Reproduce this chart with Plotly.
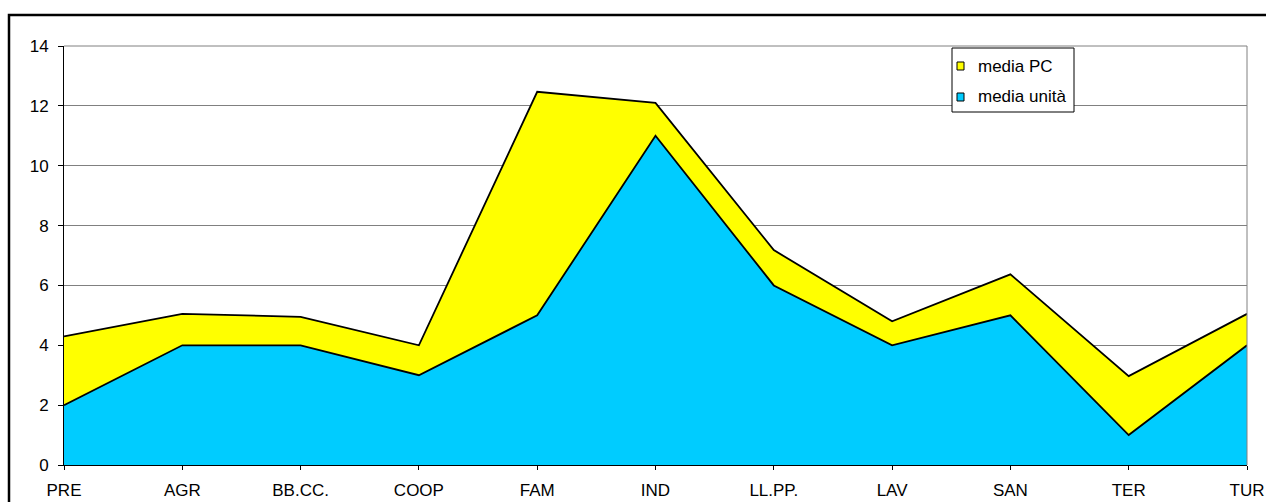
import plotly.graph_objects as go

categories = ["PRE", "AGR", "BB.CC.", "COOP", "FAM", "IND", "LL.PP.", "LAV", "SAN", "TER", "TUR"]
media_pc = [4.3, 5.05, 4.95, 4.0, 12.47, 12.1, 7.18, 4.8, 6.37, 2.97, 5.05]
media_unita = [2, 4, 4, 3, 5, 11, 6, 4, 5, 1, 4]
series_names = ["media PC", "media unità"]

YELLOW = "#FFFF00"
BLUE = "#00CCFF"
FONT = "Liberation Sans, Arial, sans-serif"

# figure size / plot area in pixels (body margin removed below)
W, H = 1266, 502
L, R, T, B = 64, 19, 46, 37
PW, PH = W - L - R, H - T - B


def px(x):
    return (x - L) / PW


def py(y):
    return (H - B - y) / PH


fig = go.Figure()

# areas overlap (not stacked): yellow behind, blue in front
fig.add_trace(go.Scatter(
    x=categories, y=media_pc, mode="lines", fill="tozeroy",
    fillcolor=YELLOW, line=dict(color="black", width=1.8),
    showlegend=False, name=series_names[0],
))
fig.add_trace(go.Scatter(
    x=categories, y=media_unita, mode="lines", fill="tozeroy",
    fillcolor=BLUE, line=dict(color="black", width=1.8),
    showlegend=False, name=series_names[1],
))

shapes = [
    # grey plot-area frame on top and right
    dict(type="line", xref="paper", yref="paper", x0=0, x1=1, y0=1, y1=1,
         line=dict(color="#808080", width=1)),
    dict(type="line", xref="paper", yref="paper", x0=1, x1=1, y0=0, y1=1,
         line=dict(color="#808080", width=1)),
    # outer chart border (cropped on right and bottom)
    dict(type="rect", xref="paper", yref="paper",
         x0=px(9), x1=1.05, y0=-0.2, y1=py(15),
         line=dict(color="black", width=2.5), layer="above"),
    # legend box
    dict(type="rect", xref="paper", yref="paper",
         x0=px(952), x1=px(1074), y0=py(112), y1=py(48),
         fillcolor="white", line=dict(color="black", width=1), layer="above"),
]
annotations = []
for i, (name, color) in enumerate(zip(series_names, [YELLOW, BLUE])):
    cy = 66 + i * 31
    shapes.append(dict(
        type="rect", xref="paper", yref="paper",
        x0=px(957), x1=px(964), y0=py(cy + 4), y1=py(cy - 4),
        fillcolor=color, line=dict(color="black", width=1), layer="above",
    ))
    annotations.append(dict(
        xref="paper", yref="paper", x=px(976), y=py(cy),
        xanchor="left", yanchor="middle", text=name, showarrow=False,
        font=dict(family=FONT, size=17, color="black"),
    ))

fig.update_layout(
    width=W, height=H,
    margin=dict(l=L, r=R, t=T, b=B, autoexpand=False),
    paper_bgcolor="white", plot_bgcolor="white",
    font=dict(family=FONT, size=17, color="black"),
    showlegend=False,
    xaxis=dict(
        type="category", range=[0, 10], showgrid=False,
        showline=True, linecolor="black", linewidth=1,
        ticks="outside", ticklen=4, tickcolor="black",
        ticklabelstandoff=6, automargin=False,
        zeroline=False, fixedrange=True,
    ),
    yaxis=dict(
        range=[0, 14], dtick=2, showgrid=True, gridcolor="#808080", gridwidth=1,
        showline=True, linecolor="black", linewidth=1,
        ticks="outside", ticklen=5, tickcolor="black",
        ticklabelstandoff=6, automargin=False,
        zeroline=False,
    ),
    shapes=shapes,
    annotations=annotations,
)

fig.write_html(
    "out.html",
    config={"displayModeBar": False},
    post_script="document.body.style.margin='0';document.body.style.overflow='hidden';",
)
